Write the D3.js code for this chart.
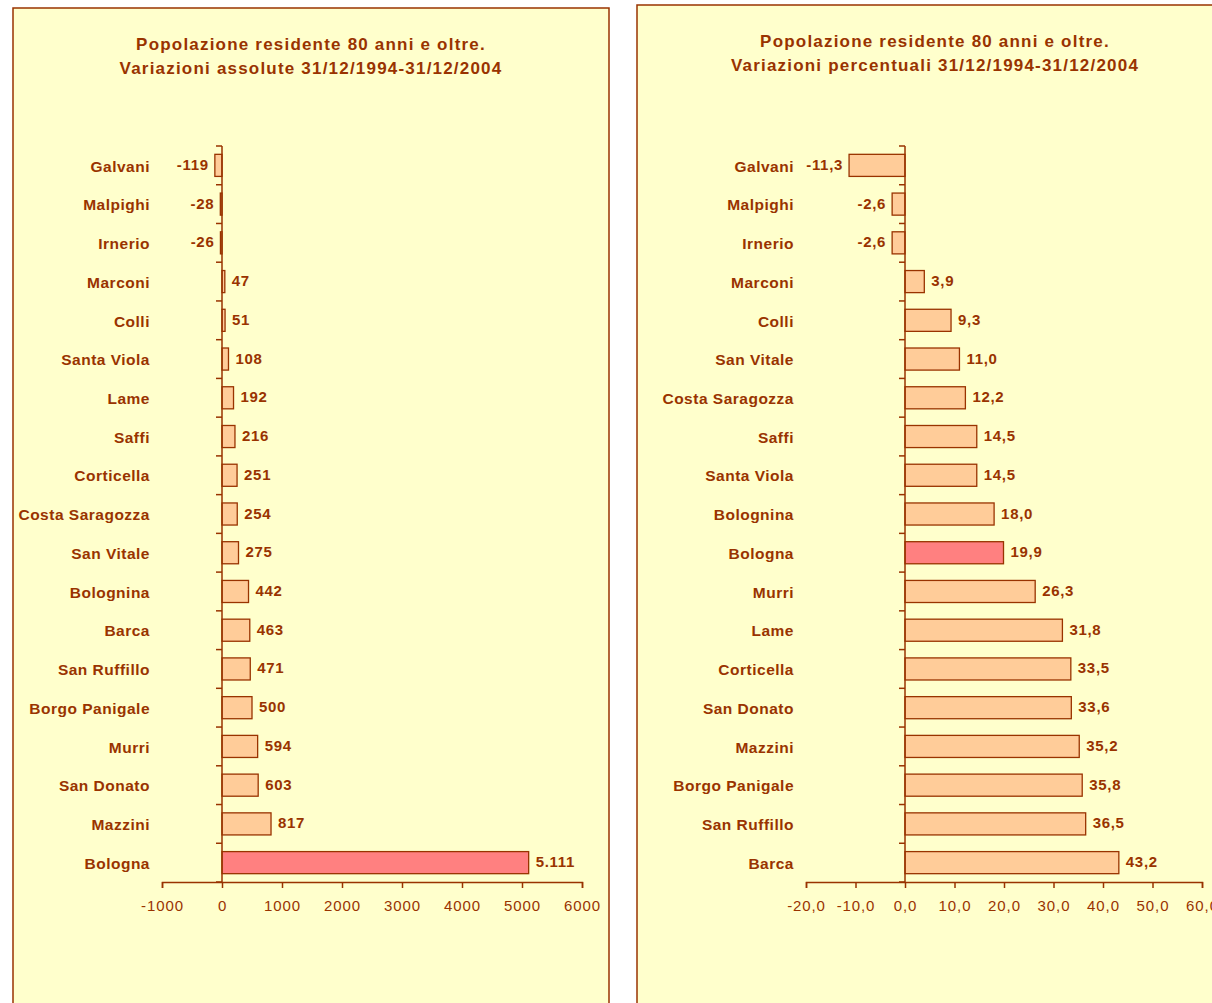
<!DOCTYPE html>
<html lang="it">
<head>
<meta charset="utf-8">
<title>Popolazione residente 80 anni e oltre</title>
<style>
  body { margin: 0; background: #fff; }
  svg text { font-family: "Liberation Sans", Arial, sans-serif; fill: #993300; }
  .title { font-size: 17px; font-weight: bold; text-anchor: middle; letter-spacing: 1.2px; }
  .cat { font-size: 15.5px; font-weight: bold; text-anchor: end; letter-spacing: 0.5px; }
  .val { font-size: 15px; font-weight: bold; letter-spacing: 0.7px; }
  .axis text { font-size: 15px; fill: #993300; letter-spacing: 0.9px; }
  .axis path, .axis line { stroke: #993300; stroke-width: 1.5; }
</style>
</head>
<body>
<div id="chart"></div>
<script src="https://d3js.org/d3.v7.min.js"></script>
<script>
// left chart: absolute change
var absCategories = ["Galvani", "Malpighi", "Irnerio", "Marconi", "Colli", "Santa Viola", "Lame", "Saffi",
  "Corticella", "Costa Saragozza", "San Vitale", "Bolognina", "Barca", "San Ruffillo", "Borgo Panigale",
  "Murri", "San Donato", "Mazzini", "Bologna"];
var absValues = [-119, -28, -26, 47, 51, 108, 192, 216, 251, 254, 275, 442, 463, 471, 500, 594, 603, 817, 5111];
var absTicks = [-1000, 0, 1000, 2000, 3000, 4000, 5000, 6000];

// right chart: percentage change
var pctCategories = ["Galvani", "Malpighi", "Irnerio", "Marconi", "Colli", "San Vitale", "Costa Saragozza",
  "Saffi", "Santa Viola", "Bolognina", "Bologna", "Murri", "Lame", "Corticella", "San Donato", "Mazzini",
  "Borgo Panigale", "San Ruffillo", "Barca"];
var pctValues = [-11.3, -2.6, -2.6, 3.9, 9.3, 11.0, 12.2, 14.5, 14.5, 18.0, 19.9, 26.3, 31.8, 33.5, 33.6,
  35.2, 35.8, 36.5, 43.2];
var pctTicks = [-20, -10, 0, 10, 20, 30, 40, 50, 60];

var highlight = "Bologna";

var it = d3.formatLocale({decimal: ",", thousands: ".", grouping: [3], currency: ["€", ""], minus: "-"});

var W = 1212, H = 1003;
var svg = d3.select("#chart").append("svg")
  .attr("width", W).attr("height", H);

function drawPanel(p) {
  var g = svg.append("g");

  // panel background + border
  g.append("rect")
    .attr("x", p.left).attr("y", p.top)
    .attr("width", 596).attr("height", 1020)
    .style("fill", "#FFFFCC").style("stroke", "#993300").style("stroke-width", 1.5);

  var cx = p.left + 298;
  g.append("text").attr("class", "title").attr("x", cx).attr("y", p.top + 42).text(p.title1);
  g.append("text").attr("class", "title").attr("x", cx).attr("y", p.top + 66).text(p.title2);

  var x = d3.scaleLinear().domain(p.domain).range([p.left + p.plotX0, p.left + p.plotX1]);
  var y = d3.scaleBand().domain(p.cats).range([146, 882])
    .paddingInner(0.43).paddingOuter(0.215);

  // bars
  g.append("g").selectAll("rect")
    .data(p.vals)
    .join("rect")
    .attr("x", d => x(Math.min(0, d)))
    .attr("y", (d, i) => y(p.cats[i]))
    .attr("width", d => Math.abs(x(d) - x(0)))
    .attr("height", y.bandwidth())
    .style("fill", (d, i) => p.cats[i] === highlight ? "#FF8080" : "#FFCC99")
    .style("stroke", "#993300").style("stroke-width", 1.3);

  // value labels
  g.append("g").selectAll("text")
    .data(p.vals)
    .join("text")
    .attr("class", "val")
    .attr("x", d => d < 0 ? x(d) - 6 : x(d) + 7)
    .attr("y", (d, i) => y(p.cats[i]) + y.bandwidth() / 2)
    .attr("dy", "0.3em")
    .style("text-anchor", d => d < 0 ? "end" : "start")
    .text(d => p.fmt(d));

  // category labels
  g.append("g").selectAll("text")
    .data(p.cats)
    .join("text")
    .attr("class", "cat")
    .attr("x", x.range()[0] - 12)
    .attr("y", d => y(d) + y.bandwidth() / 2)
    .attr("dy", "0.4em")
    .text(d => d);

  // x axis
  g.append("g")
    .attr("class", "axis")
    .attr("transform", "translate(0," + y.range()[1] + ")")
    .call(d3.axisBottom(x).tickValues(p.ticks).tickSize(6).tickSizeOuter(6)
      .tickPadding(12).tickFormat(p.tickFmt));

  // y axis at zero, ticks on band boundaries
  var ya = g.append("g").attr("class", "axis");
  ya.append("line")
    .attr("x1", x(0)).attr("x2", x(0))
    .attr("y1", y.range()[0]).attr("y2", y.range()[1]);
  ya.selectAll(".bt")
    .data(d3.range(p.cats.length + 1))
    .join("line")
    .attr("class", "bt")
    .attr("x1", x(0) - 6).attr("x2", x(0))
    .attr("y1", i => y.range()[0] + i * y.step())
    .attr("y2", i => y.range()[0] + i * y.step());
}

drawPanel({
  left: 13, top: 8,
  title1: "Popolazione residente 80 anni e oltre.",
  title2: "Variazioni assolute 31/12/1994-31/12/2004",
  cats: absCategories, vals: absValues, ticks: absTicks,
  domain: [-1000, 6000], plotX0: 149, plotX1: 569,
  fmt: it.format(",d"), tickFmt: it.format("d")
});

drawPanel({
  left: 637, top: 5,
  title1: "Popolazione residente 80 anni e oltre.",
  title2: "Variazioni percentuali 31/12/1994-31/12/2004",
  cats: pctCategories, vals: pctValues, ticks: pctTicks,
  domain: [-20, 60], plotX0: 169, plotX1: 565,
  fmt: it.format(".1f"), tickFmt: it.format(".1f")
});
</script>
</body>
</html>
